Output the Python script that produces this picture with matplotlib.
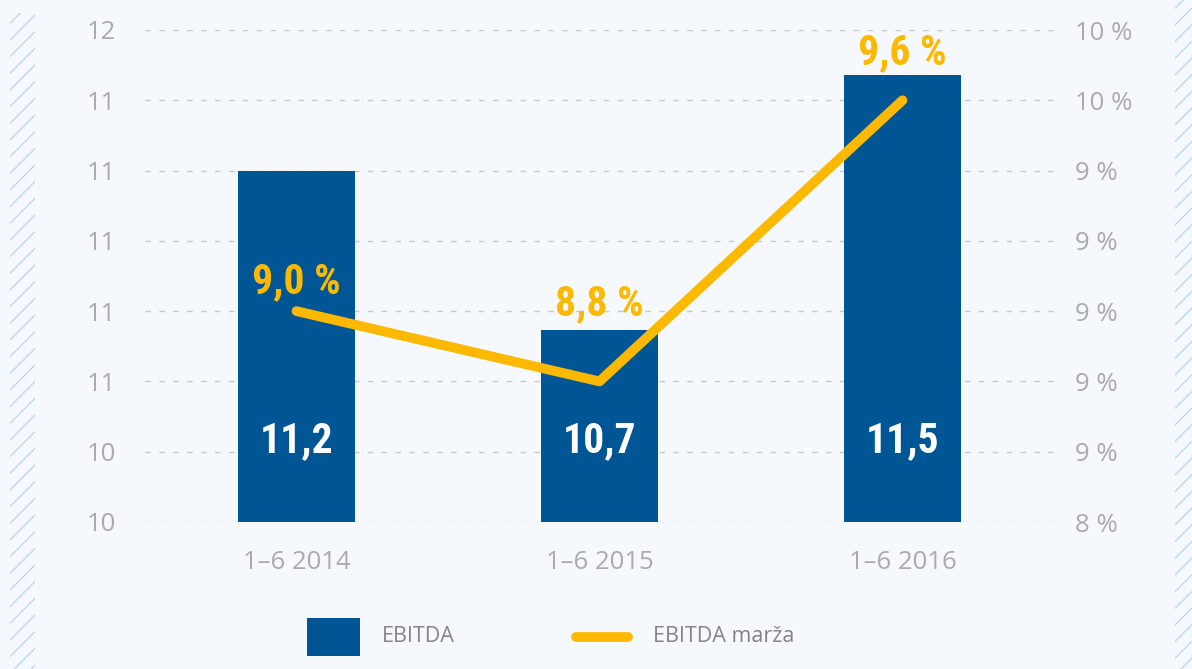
import matplotlib
matplotlib.use("Agg")
import matplotlib.pyplot as plt
import matplotlib.transforms as mtransforms
import numpy as np
from matplotlib import font_manager
from matplotlib.patches import Rectangle
from matplotlib.lines import Line2D

# data
periods = ["1–6 2014", "1–6 2015", "1–6 2016"]
ebitda = [11.2, 10.7, 11.5]
margin = [9.0, 8.8, 9.6]
ebitda_labels = ["11,2", "10,7", "11,5"]
margin_labels = ["9,0 %", "8,8 %", "9,6 %"]
left_ticks = np.linspace(10.1, 11.64, 8)
right_ticks = np.linspace(8.4, 9.8, 8)

BG = "#f5f9fd"
BLUE = "#005594"
YELLOW = "#fdb900"
GRID = "#c9c9c9"
TICK = "#ababab"
HATCH = "#b5d6f2"

plt.rcParams["font.family"] = ["Open Sans", "DejaVu Sans"]
plt.rcParams["hatch.color"] = HATCH
plt.rcParams["hatch.linewidth"] = 0.9

# narrowest bold face we can find for the big value labels
fonts = font_manager.fontManager.ttflist
names = {f.name for f in fonts}
COND, STRETCH = ["DejaVu Sans"], "normal"
for cand in ["Roboto Condensed", "Open Sans Condensed", "Liberation Sans Narrow", "Noto Sans Condensed"]:
    if cand in names:
        COND = [cand, "DejaVu Sans"]
        break
else:
    for f in fonts:
        if f.name == "DejaVu Sans" and f.stretch == "condensed":
            STRETCH = "condensed"
            break

W, H = 1192, 669
fig = plt.figure(figsize=(W / 100, H / 100), dpi=100)
fig.patch.set_facecolor(BG)

# hatched strips at the page edges
for x0, y0, w, h in [(10, 0, 25, H - 13), (1175, 0, 17, H)]:
    fig.patches.append(Rectangle((x0 / W, y0 / H), w / W, h / H, transform=fig.transFigure,
                                 facecolor="none", edgecolor=HATCH, hatch="//", linewidth=0))

ax = fig.add_axes([145 / W, 1 - 522 / H, (1054 - 145) / W, (522 - 30) / H])
ax.set_facecolor("none")
x = np.arange(len(periods))
ax.bar(x, ebitda, width=0.386, color=BLUE, zorder=2)
ax.set_xlim(-0.5, 2.5)
ax.set_ylim(left_ticks[0], left_ticks[-1])
ax.set_yticks(left_ticks)
ax.set_yticklabels([f"{v:.0f}" for v in left_ticks])
ax.set_xticks(x)
ax.set_xticklabels(periods)
for s in ax.spines.values():
    s.set_visible(False)
ax.tick_params(axis="both", length=0, labelsize=18.5, labelcolor=TICK)
ax.tick_params(axis="y", pad=21)
ax.tick_params(axis="x", pad=20)
ax.grid(axis="y", color=GRID, linestyle=(0, (4, 6)), linewidth=1.0, zorder=1)

ax2 = ax.twinx()
ax2.set_ylim(right_ticks[0], right_ticks[-1])
ax2.set_yticks(right_ticks)
ax2.set_yticklabels([f"{v:.0f} %" for v in right_ticks])
for s in ax2.spines.values():
    s.set_visible(False)
ax2.tick_params(axis="y", length=0, labelsize=18.5, labelcolor=TICK, pad=15)
ax2.plot(x, margin, color=YELLOW, linewidth=7, solid_capstyle="round",
         solid_joinstyle="round", zorder=3)

# value labels in the bars
trans = mtransforms.blended_transform_factory(ax.transData, ax.transAxes)
for xi, lab in zip(x, ebitda_labels):
    ax.text(xi, 0.165, lab, transform=trans, ha="center", va="center", color="white",
            fontsize=30, fontweight="bold", family=COND, fontstretch=STRETCH, zorder=4)

# margin labels (offsets in pixels above the point)
offsets = [29, 78, 48]
for xi, v, lab, off in zip(x, margin, margin_labels, offsets):
    ax2.annotate(lab, (xi, v), xytext=(0, off * 0.72), textcoords="offset points",
                 ha="center", va="center", color=YELLOW, fontsize=30,
                 fontweight="bold", family=COND, fontstretch=STRETCH, zorder=5)

# legend
fig.patches.append(Rectangle((307 / W, 1 - 656 / H), 53 / W, 38 / H,
                             transform=fig.transFigure, facecolor=BLUE, edgecolor="none"))
fig.text(382 / W, 1 - 637 / H, "EBITDA", color="#858585", fontsize=15.5, va="center")
fig.lines.append(Line2D([576 / W, 628 / W], [1 - 637 / H, 1 - 637 / H], transform=fig.transFigure,
                        color=YELLOW, linewidth=7, solid_capstyle="round"))
fig.text(653 / W, 1 - 637 / H, "EBITDA marža", color="#858585", fontsize=15.5, va="center")

fig.savefig("out.png", dpi=100, facecolor=BG)
